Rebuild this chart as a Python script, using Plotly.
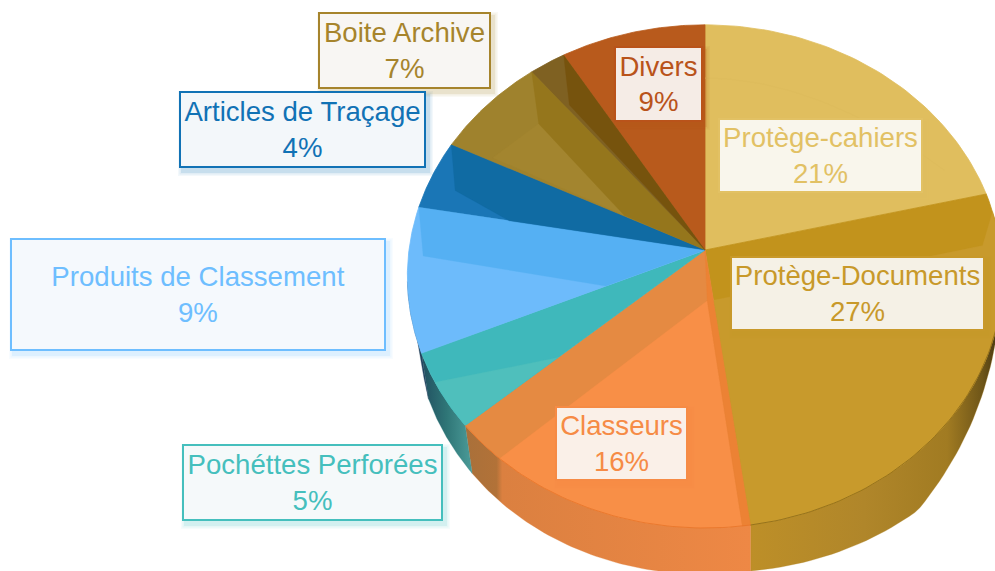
import numpy as np
import plotly.graph_objects as go

# ---- data ----
categories = ["Protège-cahiers", "Protège-Documents", "Classeurs", "Pochéttes Perforées",
              "Produits de Classement", "Articles de Traçage", "Boite Archive", "", "Divers"]
shares = [21.3, 26.5, 15.8, 4.9, 9.3, 4.49, 6.8, 2.2, 8.71]
shown_percent = ["21%", "27%", "16%", "5%", "9%", "4%", "7%", "", "9%"]

# ---- styles ----
slice_colors = ["#E0BE5E", "#C2931C", "#E58A42", "#3FB8BB", "#6DBBFB", "#1A76B6", "#9F822D", "#7F6122", "#B85A1C"]
text_colors = ["#E2C164", "#C8992A", "#F68B45", "#45BFBD", "#6EBEFF", "#1172B5", "#A6842C", "", "#B9531A"]
box_fills = ["#F9F6EC", "#F5F1E6", "#FAF0E8", "#F5F9FA", "#F5F9FD", "#F3F7FA", "#F8F6F3", "", "#F5ECE6"]
# label box: left, right, top, bottom (pixels of the 995x571 stage)
boxes = [(718, 923, 118, 193), (730, 985, 256, 331), (555, 688, 406, 481), (182, 443, 444, 521),
         (10, 386, 238, 351), (179, 426, 91, 168), (318, 491, 12, 89), None, (614, 703, 46, 122)]

# perspective of the tilted disc
CX, CY, A, B, K = 705.0, 250.0, 296.0, 248.8, 0.105


def project(cum, r=1.0):
    th = np.asarray(cum, dtype=float) / 100 * 2 * np.pi
    u, v = r * np.sin(th), r * np.cos(th)
    w = 1 + K * v
    return CX + A * u / w, CY - B * v / w


def poly(pairs):
    """pairs of (cumulative share, radius fraction)"""
    xs, ys = [], []
    for c, r in pairs:
        x, y = project(c, r)
        xs.append(float(x)); ys.append(float(y))
    return xs, ys


def rim(c0, c1, n=60):
    cs = np.linspace(c0, c1, n)
    return project(cs)


fig = go.Figure()


def add_fill(xs, ys, color, line=None, width=0.6, gradient=None):
    kw = dict(x=list(xs) + [xs[0]], y=list(ys) + [ys[0]], mode="lines", fill="toself",
              hoverinfo="skip", showlegend=False, line=dict(color=line or color, width=width))
    if gradient:
        kw["fillgradient"] = dict(type="horizontal", colorscale=gradient)
    else:
        kw["fillcolor"] = color
    fig.add_trace(go.Scatter(**kw))


# ---- side wall (drawn first, below the top face) ----
wall_pct = np.array([26.4, 30.5, 34.7, 38.9, 47.8, 63.6, 68.5, 70.8, 73.0])
wall_dx = np.array([0, 1, 4, 6, 0, 7, 7, 6, 0])
wall_dy = np.array([0, 9, 31, 53, 46, 48, 46, 20, 0])


def add_wall(c0, c1, gradient, color):
    cs = np.linspace(c0, c1, 60)
    xt, yt = project(cs)
    xb = xt + np.interp(cs, wall_pct, wall_dx)
    yb = yt + np.interp(cs, wall_pct, wall_dy)
    add_fill(list(xt) + list(xb[::-1]), list(yt) + list(yb[::-1]), color, width=0.3, gradient=gradient)


cum = np.concatenate([[0], np.cumsum(shares)])
add_wall(26.4, cum[2], [[0, "#BD8F28"], [0.45, "#B0862A"], [0.78, "#A17B22"], [0.92, "#6E5518"], [1, "#3A2E10"]], "#B0862A")
add_wall(cum[2], cum[3], [[0, "#A9703A"], [0.11, "#B27238"], [0.13, "#DB8040"], [1, "#EE8845"]], "#E08442")
add_wall(cum[3], cum[4], [[0, "#214F60"], [0.5, "#2F7677"], [1, "#4C9C99"]], "#3B8888")
add_wall(cum[4], 73.0, [[0, "#1C3044"], [1, "#25506F"]], "#1F3850")

# ---- top face ----
for i, s in enumerate(shares):
    rx, ry = rim(cum[i], cum[i + 1])
    add_fill([CX] + list(rx), [CY] + list(ry), slice_colors[i], width=0.8)

# ---- facets, as (cumulative share, radius) ----
c = cum
facets = [
    ([(c[1] + 1.2, 1.0)] + [(p, 1.0) for p in np.linspace(c[1] + 1.7, c[2], 40)] + [(c[2], 0.2), (24.7, 0.94)], "#C89A2C"),
    ([(61, 1.0)] + [(p, 1.0) for p in np.linspace(60, c[2] + 0.4, 24)] + [(c[2] + 1.6, 0.2)], "#F88F47"),
    ([(c[2], 0.0), (c[2], 1.0), (c[2] + 0.4, 1.0), (c[2] + 1.6, 0.2)], "#EC8234"),
    ([(c[3], 1.0), (c[3] + 1.5, 1.0), (c[3] + 3, 1.0), (c[3], 0.63)], "#4FBFBC"),
    ([(c[5], 1.0), (74.6, 0.95), (c[4], 0.36), (c[4], 0.0)], "#55B0F3"),
    ([(c[6], 1.0), (79.4, 0.9), (c[5], 0.68), (c[5], 0.0)], "#106BA3"),
    ([(86.7, 0.8), (82.6, 0.84), (82.5, 0.31)], "#A3852F"),
    ([(c[7], 1.0), (86.7, 0.8), (82.5, 0.31), (c[6], 0.0)], "#95761C"),
    ([(c[8], 1.0), (89.4, 0.79), (c[7], 0.0)], "#76530D"),
]
for pairs, col in facets:
    xs, ys = poly(pairs)
    add_fill(xs, ys, col, width=0.3)

# faint bevel line on the first slice
bx_, by_ = poly([(p, 0.745 + 0.155 * (p / 19) ** 3) for p in np.linspace(0, 19, 30)])
fig.add_trace(go.Scatter(x=bx_, y=by_, mode="lines", hoverinfo="skip", showlegend=False,
                         line=dict(color="#DEBC5C", width=1)))

# rim accent over the orange slice and the gold slice
for c0, c1, col in [(cum[2], cum[3], "#E87428"), (30, cum[2], "#8A6A1A")]:
    rx, ry = rim(c0, c1)
    fig.add_trace(go.Scatter(x=rx, y=ry, mode="lines", hoverinfo="skip", showlegend=False,
                             line=dict(color=col, width=0.8)))

# ---- label boxes ----
for name, pct, tc, bf, bx in zip(categories, shown_percent, text_colors, box_fills, boxes):
    if bx is None:
        continue
    l, r, t, b = bx
    for grow, op in [(4, 0.05), (2.5, 0.08), (1, 0.12)]:
        fig.add_shape(type="rect", x0=l + 3 - grow, x1=r + 3 + grow, y0=t + 4 - grow, y1=b + 4 + grow,
                      fillcolor=tc, opacity=op, line_width=0, layer="above")
    fig.add_annotation(x=(l + r) / 2, y=(t + b) / 2, xref="x", yref="y", showarrow=False,
                       text=f"{name}<br>{pct}", width=r - l - 4, height=b - t - 4,
                       align="center", valign="middle", bgcolor=bf, bordercolor=tc,
                       borderwidth=2, borderpad=0,
                       font=dict(family="Liberation Sans, Arial, sans-serif", size=27.6, color=tc))

fig.update_layout(width=995, height=571, margin=dict(l=0, r=0, t=0, b=0),
                  paper_bgcolor="white", plot_bgcolor="white", showlegend=False,
                  xaxis=dict(range=[0, 995], visible=False, fixedrange=True),
                  yaxis=dict(range=[571, 0], visible=False, fixedrange=True))
fig.write_html("out.html", config={"displayModeBar": False},
               post_script="document.body.style.margin='0';document.body.style.overflow='hidden';")
